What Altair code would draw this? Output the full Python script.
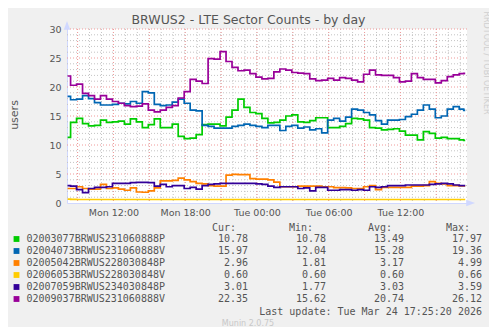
import altair as alt
import pandas as pd

# ---------------- data ----------------
series_names = [
    "02003077BRWUS231060888P",
    "02004073BRWUS231060888V",
    "02005042BRWUS228030848P",
    "02006053BRWUS228030848V",
    "02007059BRWUS234030848P",
    "02009037BRWUS231060888V",
]
series_colors = ["#00CC00", "#0066B3", "#FF8000", "#FFCC00", "#330099", "#990099"]

cur_vals = [10.78, 15.97, 2.96, 0.60, 3.01, 22.35]
min_vals = [10.78, 12.04, 1.81, 0.60, 1.77, 15.62]
avg_vals = [13.49, 15.28, 3.17, 0.60, 3.03, 20.74]
max_vals = [17.97, 19.36, 4.99, 0.66, 3.59, 26.12]

# sample times: every 30 minutes from Mon 08:10, plus the last update
times = pd.date_range("2026-03-23 08:10", periods=67, freq="30min").strftime("%Y-%m-%dT%H:%M:%S").tolist()
times.append("2026-03-24T17:25:00")

green = [11.3, 13.9, 14.6, 13.7, 13.3, 13.4, 14.3, 13.9, 14.0, 14.1, 13.6, 14.5, 14.0, 13.0, 13.5, 14.5, 13.0,
         13.0, 13.6, 11.5, 11.1, 11.2, 11.8, 13.5, 13.6, 13.6, 13.3, 14.8, 16.0, 17.9, 16.5, 15.6, 15.4, 14.6,
         13.8, 13.9, 14.3, 15.0, 15.2, 14.0, 13.9, 14.2, 14.7, 14.7, 13.0, 13.0, 13.2, 13.7, 14.6, 14.5,
         14.3, 13.0, 12.9, 12.6, 12.7, 12.8, 12.4, 11.7, 11.7, 10.9, 12.3, 12.0, 11.2, 11.3, 11.1, 11.1, 10.9, 10.78]
blue = [18.4, 17.8, 17.9, 18.5, 18.0, 17.3, 16.9, 16.9, 17.0, 17.2, 17.1, 17.5, 17.2, 19.2, 19.0, 17.0, 16.8,
        16.9, 17.4, 17.9, 17.2, 16.0, 15.9, 13.4, 13.2, 12.9, 12.9, 12.9, 13.2, 13.4, 13.6, 13.4, 13.2, 13.0,
        13.4, 13.4, 12.5, 13.2, 13.4, 12.9, 13.1, 12.6, 12.8, 12.1, 14.3, 14.6, 14.1, 14.8, 16.2, 16.0,
        15.6, 15.2, 14.2, 13.6, 14.3, 14.3, 14.4, 14.9, 15.3, 16.0, 16.9, 16.2, 14.7, 15.0, 16.2, 16.6, 16.2, 15.97]
orange = [2.5, 2.5, 2.8, 2.5, 2.4, 2.4, 3.2, 2.5, 2.6, 2.4, 2.2, 2.6, 1.9, 1.85, 2.1, 2.6, 3.8,
          3.8, 3.9, 4.3, 4.0, 3.7, 3.4, 3.3, 3.0, 2.9, 2.9, 4.8, 4.95, 4.9, 4.9, 4.2, 4.1, 4.1,
          4.0, 3.6, 2.8, 2.8, 2.8, 2.9, 2.9, 2.9, 2.9, 2.8, 2.8, 2.65, 2.65, 2.6, 2.5, 2.5,
          2.8, 3.0, 2.3, 2.7, 2.7, 2.7, 2.7, 2.7, 2.9, 2.9, 3.0, 3.7, 3.4, 3.3, 3.0, 3.0, 2.96, 2.96]
yellow = [0.66, 0.62, 0.60, 0.60, 0.60, 0.60, 0.60, 0.60, 0.60, 0.60, 0.60, 0.60, 0.60, 0.60, 0.60, 0.60, 0.60,
          0.60, 0.60, 0.60, 0.60, 0.60, 0.60, 0.60, 0.60, 0.60, 0.60, 0.60, 0.60, 0.60, 0.60, 0.60, 0.60, 0.60,
          0.60, 0.60, 0.60, 0.60, 0.60, 0.60, 0.60, 0.60, 0.60, 0.60, 0.60, 0.60, 0.60, 0.60, 0.60, 0.60,
          0.60, 0.60, 0.60, 0.60, 0.60, 0.60, 0.60, 0.60, 0.60, 0.60, 0.60, 0.60, 0.60, 0.60, 0.60, 0.60, 0.60, 0.60]
indigo = [3.0, 2.9, 2.3, 1.8, 2.5, 2.7, 2.7, 2.8, 3.4, 3.4, 3.4, 3.5, 3.55, 3.55, 3.5, 2.9, 3.2,
          2.8, 3.0, 3.0, 2.5, 2.7, 2.4, 3.0, 3.2, 3.3, 3.4, 3.4, 3.4, 3.4, 3.4, 3.4, 3.3, 3.2,
          2.9, 2.7, 2.8, 2.8, 2.8, 2.5, 2.6, 2.1, 2.7, 2.7, 2.2, 2.2, 2.3, 2.3, 2.2, 2.3,
          2.2, 2.8, 2.7, 2.8, 3.0, 3.0, 3.0, 3.1, 3.1, 3.1, 3.1, 3.2, 3.3, 3.4, 3.3, 3.1, 3.01, 3.01]
purple = [21.9, 20.3, 20.5, 18.9, 18.5, 17.9, 18.5, 17.9, 17.5, 17.2, 16.8, 16.6, 16.7, 17.1, 16.0, 15.7, 16.0,
          16.5, 16.8, 18.1, 19.2, 21.3, 21.0, 20.6, 24.9, 24.8, 26.1, 24.4, 23.4, 22.8, 22.9, 22.3, 21.7, 21.4,
          21.5, 22.6, 23.1, 22.9, 22.5, 22.4, 22.3, 21.4, 21.1, 21.2, 21.5, 21.2, 21.6, 21.5, 21.2, 20.9,
          22.2, 22.9, 22.1, 22.0, 22.0, 21.6, 20.9, 21.0, 22.3, 21.6, 21.3, 21.3, 20.7, 21.1, 21.8, 22.1, 22.3, 22.35]

y_labels = [0, 5, 10, 15, 20, 25, 30]
minor_y = [v for v in range(1, 30) if v % 5 != 0]
major_y = [5, 10, 15, 20, 25, 30]
minor_x = pd.date_range("2026-03-23 09:00", "2026-03-24 17:00", freq="1h").strftime("%Y-%m-%dT%H:%M:%S").tolist()
major_x = pd.date_range("2026-03-23 09:00", "2026-03-24 15:00", freq="3h").strftime("%Y-%m-%dT%H:%M:%S").tolist()

# ---------------- build ----------------
rows = []
for name, vals in zip(series_names, [green, blue, orange, yellow, indigo, purple]):
    for t, v in zip(times, vals):
        rows.append({"t": t, "v": v, "s": name})
df = pd.DataFrame(rows)

W, H = 400, 174
FONT = "DejaVu Sans"
MONO = "DejaVu Sans Mono"
TXT = "#555555"
AXC = "#D0D8FF"

xdom = [alt.DateTime(year=2026, month=3, date=23, hours=8, minutes=7),
        alt.DateTime(year=2026, month=3, date=24, hours=17, minutes=34)]
xscale = alt.Scale(domain=xdom)
yscale = alt.Scale(domain=[0, 30], nice=False, zero=False)
cscale = alt.Scale(domain=series_names, range=series_colors)

xaxis = alt.Axis(values=[alt.DateTime(year=2026, month=3, date=23, hours=12),
                         alt.DateTime(year=2026, month=3, date=23, hours=18),
                         alt.DateTime(year=2026, month=3, date=24, hours=0),
                         alt.DateTime(year=2026, month=3, date=24, hours=6),
                         alt.DateTime(year=2026, month=3, date=24, hours=12)],
                 format="%a %H:%M", labelFont=FONT, labelFontSize=9.5, labelColor=TXT,
                 ticks=False, grid=False, domainColor=AXC, labelPadding=4,
                 labelFlush=False, labelOverlap=False, title=None)
yaxis = alt.Axis(values=y_labels, labelFont=FONT, labelFontSize=9.5, labelColor=TXT,
                 ticks=False, grid=False, domainColor=AXC, labelPadding=6, title=None)

X = lambda f: alt.X(f, scale=xscale, axis=xaxis, title=None)
Y = lambda f: alt.Y(f, scale=yscale, axis=yaxis, title=None)

hg_minor = alt.Chart(pd.DataFrame({"v": minor_y})).mark_rule(
    color="#C4C4C4", strokeDash=[1, 2], strokeWidth=1).encode(y=Y("v:Q"))
hg_major = alt.Chart(pd.DataFrame({"v": major_y})).mark_rule(
    color="#F09A9A", strokeDash=[1, 2], strokeWidth=1).encode(y=Y("v:Q"))
vg_minor = alt.Chart(pd.DataFrame({"t": minor_x})).mark_rule(
    color="#C4C4C4", strokeDash=[1, 2], strokeWidth=1).encode(x=X("t:T"))
vg_major = alt.Chart(pd.DataFrame({"t": major_x})).mark_rule(
    color="#F09A9A", strokeDash=[1, 2], strokeWidth=1).encode(x=X("t:T"))

lines = alt.Chart(df).mark_line(interpolate="step", strokeWidth=1.7).encode(
    x=X("t:T"), y=Y("v:Q"),
    color=alt.Color("s:N", scale=cscale, legend=None),
)

arrow_up = alt.Chart(pd.DataFrame({"t": ["2026-03-23T08:07:00"], "v": [30]})).mark_point(
    shape="M-0.4,0.1L0.4,0.1L0,-1Z", filled=True, size=256, color=AXC, opacity=1
).encode(x=X("t:T"), y=Y("v:Q"))
arrow_right = alt.Chart(pd.DataFrame({"t": ["2026-03-24T17:34:00"], "v": [0]})).mark_point(
    shape="M-0.1,-0.4L1,0L-0.1,0.4Z", filled=True, size=256, color=AXC, opacity=1
).encode(x=X("t:T"), y=Y("v:Q"))

one = pd.DataFrame({"a": [0]})


def label(text, x, y, **kw):
    return alt.Chart(one).mark_text(**kw).encode(x=alt.value(x), y=alt.value(y), text=alt.value(text))


title = label("BRWUS2 - LTE Sector Counts - by day", 181.5, -9, font=FONT, fontSize=12.5,
              color=TXT, align="center", baseline="middle")
ylab = label("users", -52.5, 86, font=FONT, fontSize=11, color=TXT, angle=270,
             align="center", baseline="middle")
rrd = label("RRDTOOL / TOBI OETIKER", 418.5, 34, font=FONT, fontSize=8, color="#CFCFCF",
            angle=90, align="center", baseline="middle")
headers = [label(h, x, 199, font=MONO, fontSize=10, color=TXT, align="right", baseline="middle")
           for h, x in [("Cur:", 169), ("Min:", 246), ("Avg:", 325), ("Max:", 403)]]
last = label("Last update: Tue Mar 24 17:25:20 2026", 415, 283, font=MONO, fontSize=10,
             color=TXT, align="right", baseline="middle")
munin = label("Munin 2.0.75", 181, 295, font=FONT, fontSize=8, color="#C8C8C8",
              align="center", baseline="middle")

leg = pd.DataFrame({"s": series_names, "i": list(range(6)), "cur": cur_vals, "mn": min_vals,
                    "avg": avg_vals, "mx": max_vals})
leg_base = alt.Chart(leg).transform_calculate(py="210 + 12 * datum.i")
squares = leg_base.mark_square(size=34, opacity=1).encode(
    x=alt.value(-50.5), y=alt.Y("py:Q", scale=None),
    color=alt.Color("s:N", scale=cscale, legend=None))
names = leg_base.mark_text(font=MONO, fontSize=10, color=TXT, align="left", baseline="middle").encode(
    x=alt.value(-40.5), y=alt.Y("py:Q", scale=None), text="s:N")
cols = []
for field, xr in [("cur", 181), ("mn", 259), ("avg", 337), ("mx", 415)]:
    cols.append(leg_base.mark_text(font=MONO, fontSize=10, color=TXT, align="right", baseline="middle").encode(
        x=alt.value(xr), y=alt.Y("py:Q", scale=None), text=alt.Text(f"{field}:Q", format=".2f")))

chart = alt.layer(
    vg_minor, hg_minor, vg_major, hg_major, lines, arrow_up, arrow_right,
    title, ylab, rrd, *headers, squares, names, *cols, last, munin
).properties(
    width=W, height=H,
    padding={"left": 59, "top": 21, "right": 22, "bottom": 124},
    autosize=alt.AutoSizeParams(type="none"),
    background="#F0F0F0",
).configure_view(fill="white", stroke=None)

chart.save("out.html", embed_options={"renderer": "svg", "actions": False})
